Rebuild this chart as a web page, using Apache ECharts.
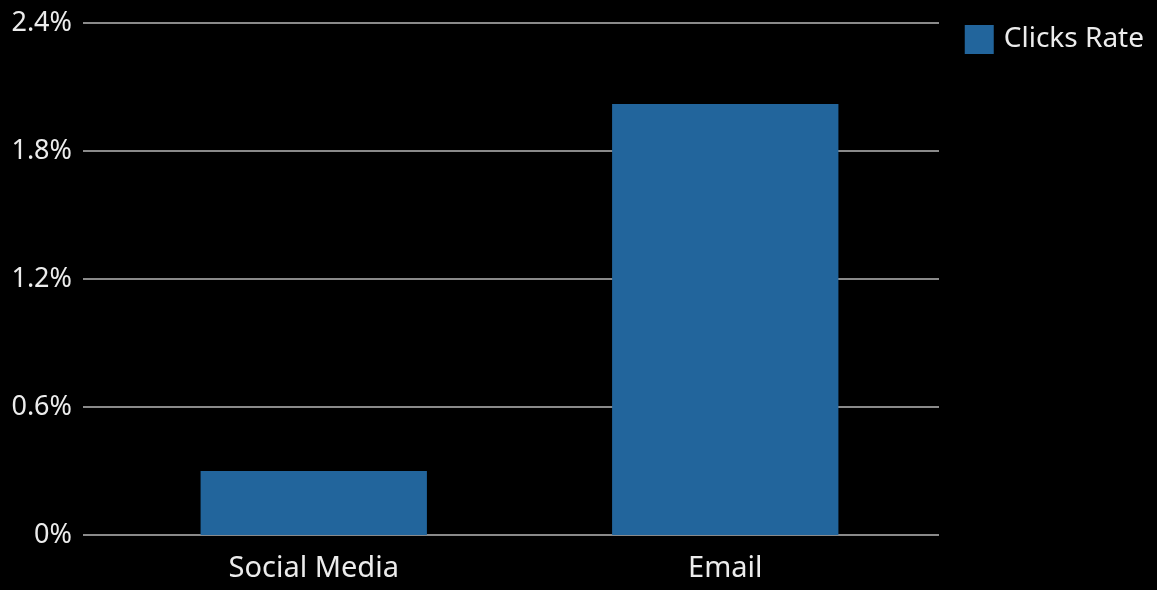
<!DOCTYPE html>
<html>
<head>
<meta charset="utf-8">
<script src="https://cdn.jsdelivr.net/npm/echarts@6/dist/echarts.min.js"></script>
<style>
  html, body { margin: 0; padding: 0; background: #000; }
  #chart { width: 1157px; height: 590px; }
</style>
</head>
<body>
<div id="chart"></div>
<script>
// Click-through rate by channel (percent)
const categories = ['Social Media', 'Email'];
const clicksRate = [0.30, 2.02];
const seriesName = 'Clicks Rate';

const FONT = '"Noto Sans", "Open Sans", sans-serif';
const TEXT = '#ececec';
const GRID = '#8a8a8a';

const chart = echarts.init(document.getElementById('chart'));
chart.setOption({
  backgroundColor: '#000',
  animation: false,
  textStyle: { fontFamily: FONT },
  legend: {
    top: 20, right: 8,
    itemWidth: 29, itemHeight: 29, itemGap: 10,
    icon: 'rect',
    textStyle: { color: TEXT, fontSize: 28, fontFamily: FONT, padding: [0, 0, 0, 5] },
    data: [seriesName]
  },
  grid: { left: 108, right: 226, top: 23, bottom: 55 },
  xAxis: {
    type: 'category',
    data: categories,
    axisLine: { show: true, lineStyle: { color: GRID, width: 2 } },
    axisTick: { show: false },
    axisLabel: { color: TEXT, fontSize: 29, margin: 19, fontFamily: FONT }
  },
  yAxis: [{
    type: 'value',
    min: 0, max: 2.4, interval: 0.6,
    axisLine: { show: false },
    axisTick: { show: true, length: 25, lineStyle: { color: GRID, width: 2 } },
    splitLine: { lineStyle: { color: GRID, width: 2 } },
    axisLabel: {
      color: TEXT, fontSize: 27, margin: 36, fontFamily: FONT,
      formatter: v => (Math.round(v * 10) / 10) + '%'
    }
  }, {
    type: 'value',
    position: 'right',
    min: 0, max: 2.4, interval: 0.6,
    axisLine: { show: false },
    axisTick: { show: true, length: 8, lineStyle: { color: GRID, width: 2 } },
    splitLine: { show: false },
    axisLabel: { show: false }
  }],
  series: [{
    name: seriesName,
    type: 'bar',
    data: clicksRate,
    barWidth: '55%',
    itemStyle: { color: '#22659c' }
  }]
});
</script>
</body>
</html>
